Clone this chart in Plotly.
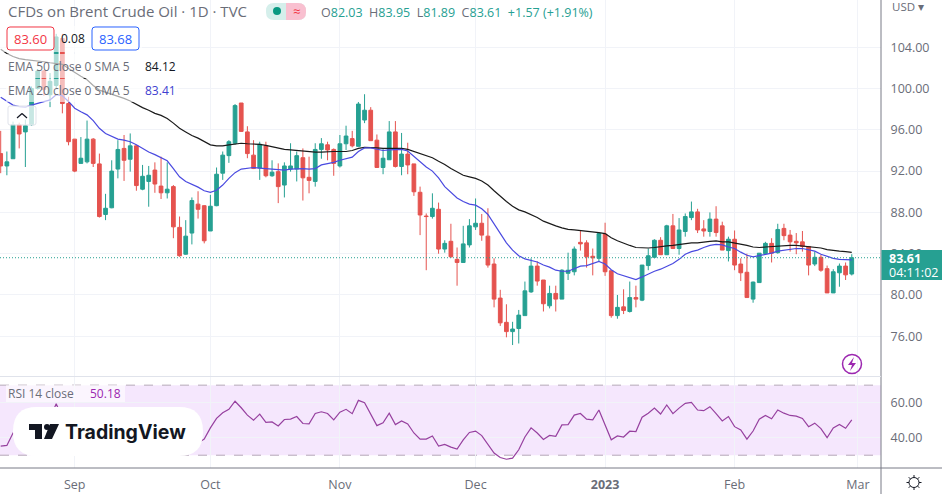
import math
import plotly.graph_objects as go

opens = [93.7,92.5,93.2,96.5,95.8,96.5,100,101.7,99.4,100.3,104.85,98.55,95.1,92.75,92.9,95.1,92.7,87.8,88.45,92.2,
94.2,93.15,94.45,90.25,91,92.1,90.55,89.9,90.5,86.55,83.95,86,88.8,88.65,86.2,88.65,91.8,93.5,94.7,98.6,
95.8,93.55,92.3,94.45,91.55,91.95,90.65,92.2,92.2,93.3,91.4,91,94.1,94.55,94.1,92.5,94.65,95.15,94.4,96.95,
97.9,95,92.35,93.1,95.8,92.45,93.65,92.7,89.95,87.65,87.6,88.3,84.45,85.2,83.45,83.15,84.85,86.6,86.95,85.7,
83,79.7,77.35,76.45,76.75,78,80.3,82.8,81.45,78.95,80.15,79.6,82.1,82.25,85.1,85.05,83.75,83.55,85.9,82.35,
78,78.85,78.4,79.75,79.5,82.85,83.65,85.3,83.9,86.7,84.5,86.15,87.5,88.05,86.4,86.15,87.35,86.7,84.3,85.4,
83,82.2,79.6,81.2,84,85,84.1,86.45,85.8,85.2,85.15,84.7,83,83.65,82.55,80.2,82.15,82.8,82.03]
highs = [95.9,93.9,96.8,96.7,97,100.2,101.9,101.8,101.5,105.3,105.3,99.2,95.1,95.3,96.9,95.2,93.7,89.8,93.05,95,
95.5,95.65,94.5,92.6,92.5,92.85,93.4,92.85,90.65,87.6,87.25,89.45,90.05,88.7,89.7,92.35,93.9,95,98.5,98.6,
96.35,95,94.85,94.85,93.05,92.75,92.85,94.7,93.9,94.2,93.4,94.7,95.2,94.85,94.2,95.5,96.4,95.9,98.7,99.45,
98.2,95.55,94.2,96.85,96.85,95.7,94.75,92.7,90.5,87.9,89.85,88.95,85.3,86.9,84.6,86.7,87.35,89.35,87.85,88.4,
83.55,80.5,79.1,77.4,78.55,81.3,83.55,83.25,81.45,80.9,80.9,82.5,84.1,84.7,86.25,85.3,84.5,86.05,87,82.35,
80,80.55,81.3,80.9,82.9,84.5,85.4,85.6,86.8,87.85,87.45,87.9,89.05,88.35,87.25,88,88.6,87.1,85.65,86.25,
83.55,84,81.3,84.05,85.15,85.5,86.9,86.9,86.3,86,86.2,84.7,84.2,83.9,82.85,82.5,83.05,83.15,83.95]
lows = [91.8,91.6,93.2,94.2,92.4,96.4,99.9,99.3,98.2,100,97.6,94.5,91.9,92.75,92.75,92.4,87.5,87.25,88.4,91.3,
91.05,91.95,90.1,90.15,88.55,89.9,89.3,89.35,85.5,83.7,83.9,84.9,87.4,85,86.2,88.6,91.15,92.8,94.55,95.8,
93.25,92.2,91.15,91.4,91.45,88.9,89.45,91.95,91,89.15,89.85,90.5,93.2,93.05,91.55,92.35,94.05,94.3,94.4,96.65,
94.95,92.35,91.7,93.1,92.35,91.6,91.7,89.6,85.8,82.4,87.4,84,84.1,83.6,80.9,83.15,84.6,86.3,85.25,82.65,
78.8,77,75.9,75.15,75.3,78,80.2,80.9,78.4,78.7,78.4,79.6,81.45,81.9,84.3,82.65,81.9,83.25,81.85,77.8,
77.7,78.15,78.3,78.8,79.4,82.4,83.55,83.9,83.9,84.45,83.9,85.65,87.25,86,85.65,85.65,85.65,84.35,83.25,82.4,
81.35,79.75,79.25,81.2,83.9,83.15,84,85.3,84.2,83.95,84.2,81.9,82.8,82.25,80.2,80.2,80.8,81.45,81.89]
closes = [92.5,92.9,96.5,95.6,96.4,100,101.7,99.9,100.7,105,98.55,94.85,92,93.25,95.1,92.75,87.6,88.4,92,94.1,
93.05,94.45,90.6,91.5,91.6,90.75,89.9,90.25,86.6,83.8,85.7,89.15,88.3,85.25,88.6,91.7,93.55,94.85,98.35,95.85,
93.7,92.25,94.6,91.55,91.9,90.5,92.5,92.5,93.5,91.35,91.1,94.1,94.65,94.05,92.75,94.65,95.4,94.45,98.5,97.9,
94.95,92.35,93.25,95.8,92.45,93.65,92.6,90,87.75,87.6,88.4,84.45,85,83.7,83.15,84.95,86.7,86.95,85.8,82.9,
79.6,77.3,76.45,76.7,78.05,80.4,82.8,81.35,79.15,80.15,79.6,82.4,82.4,84.45,84.95,83.7,83.6,85.95,82.25,78,
78.8,78.5,79.75,79.6,82.9,83.8,85.3,83.9,86.7,84.5,86.3,87.6,88.05,86.3,86.2,87.35,86.05,84.35,85.4,82.9,
82.15,79.75,81.25,84.05,85,84.05,86.35,85.75,85.15,85.05,84.7,82.9,83.65,82.4,80.2,82.25,82.8,81.95,83.61]

ema50 = [103.8,103.4,103.1,102.9,102.8,102.75,102.65,102.6,102.5,102.45,102.35,101.95,101.55,101.2,100.85,100.3,99.85,99.65,99.5,99.3,
99.05,98.8,98.45,98.15,97.9,97.6,97.4,97.1,96.65,96.15,95.8,95.45,95.2,94.85,94.55,94.45,94.45,94.55,94.65,94.7,
94.65,94.65,94.6,94.5,94.35,94.2,94.1,94.05,94,93.9,93.85,93.85,
93.85,93.9,93.9,93.9,93.9,94,94.2,94.3,94.3,94.25,94.2,94.2,94.2,94.2,94.1,93.9,93.65,93.45,93.3,92.95,92.65,92.25,91.9,91.6,91.45,91.3,91.05,90.65,90.1,89.55,89.05,88.6,88.25,88.05,87.8,87.5,87.15,86.9,86.7,86.5,86.35,86.3,86.25,86.15,86.1,86.05,85.95,
85.55,85.25,85,84.8,84.6,84.55,84.55,84.6,84.7,84.75,84.8,84.9,85,85.05,85.05,85.15,85.2,85.25,85.15,85.15,85.05,84.9,84.8,84.65,84.6,84.65,84.7,84.7,84.75,84.8,84.8,84.75,84.7,84.65,84.55,84.4,84.3,84.25,84.2,84.12]
ema20 = [99.15,98.75,98.4,98.25,98.2,98.4,98.55,98.7,98.9,99.4,99.3,98.75,98.1,97.75,97.45,96.9,96.15,95.65,95.4,95.1,
95,94.85,94.55,94.2,93.85,93.6,93.3,93,92.25,91.45,91,90.75,90.45,90.1,89.95,90.15,90.65,91.3,91.85,92.2,
92.25,92.35,92.3,92.25,92.2,92.15,92.1,92.2,92.25,92.25,92.2,92.25,
92.6,92.7,92.85,93.05,93.2,93.35,93.9,94.25,94.25,94.1,94,94.05,94.1,94.1,93.95,93.45,92.95,92.4,92,91.35,90.5,89.9,89.4,89.05,88.8,88.7,88.35,87.8,86.9,85.9,85.05,84.35,83.8,83.5,83.35,83.2,82.9,82.7,82.4,82.3,82.3,82.55,82.8,82.85,83.05,83.25,83,
82.45,82.05,81.85,81.65,81.5,81.75,82.05,82.3,82.5,82.75,83.05,83.45,83.95,84.2,84.35,84.6,84.8,84.9,84.85,84.65,84.5,84.15,83.85,83.7,83.8,83.95,84.05,84.25,84.35,84.45,84.5,84.5,84.4,84.25,83.95,83.75,83.55,83.45,83.4,83.41]
rsi = [35.2,35.6,42.7,40.8,41.7,50.4,54.2,50.4,51.3,59.4,51.3,45.6,41.7,42.7,46.5,42.7,35,37,42.7,45.6,
43.7,45.6,39.8,41.7,41.7,39.8,38,39,34,31,33,38,37,39.2,45.6,51,54.2,56.2,60.8,57.1,
52.9,50,53.5,48.8,49,46.7,50.4,50.6,52.1,48.1,47.9,53.8,54.8,53.8,50.2,54.6,56.2,53.7,61.3,60,
53.3,46.9,48.5,54,47.5,49.6,47.9,42.7,39.2,39.2,41,35.2,36.2,34.6,33.5,38.8,43,43.8,41.2,36,
31.2,28.7,27.7,28.3,33.1,40.4,45.6,42.7,39,41.3,40.8,47.3,47.5,52.9,53.8,50.6,50.2,55.8,47.5,38.8,
41,40.4,43.7,43.5,51.7,54,56.9,53.5,58.7,53.7,56.9,59.6,60.2,55.8,55.4,57.7,53.8,49.6,52.1,46.3,
44.4,39.2,43.8,50.6,52.7,50.8,55.8,54,52.7,52.3,51,46.3,48.3,45.2,40,45.6,47.5,45.4,50.18]

bars = list(range(1, len(closes) + 1))
assert all(len(a) == len(closes) for a in (opens, highs, lows, ema50, ema20, rsi)), [len(a) for a in (opens, highs, lows, closes, ema50, ema20, rsi)]

time_ticks = [13, 35, 56, 78, 99, 120, 140]
time_labels = ["Sep", "Oct", "Nov", "Dec", "<b>2023</b>", "Feb", "Mar"]
price_ticks = [76, 80, 84, 88, 92, 96, 100, 104]
rsi_ticks = [40, 60]
last_price = 83.61

W, H, PW, PH = 942, 494, 881, 468
FONT = "Open Sans, Noto Sans, sans-serif"
GREEN, RED, GRID, TXT = "#26a092", "#e5534f", "#f1f3f8", "#6a6d78"
XRANGE = [0.886, 143.74]

def px(x): return x / PW
def py(y): return 1 - y / PH

shapes, anns = [], []

def rect(x0, y0, x1, y1, fill="rgba(255,255,255,0.62)", line=None, lw=1):
    shapes.append(dict(type="rect", xref="paper", yref="paper", x0=px(x0), x1=px(x1), y0=py(y1), y1=py(y0),
                       fillcolor=fill, line=dict(color=line or "rgba(0,0,0,0)", width=lw if line else 0), layer="above"))

def rrect(x0, y0, x1, y1, r, fill, line=None):
    def P(x, y): return f"{px(x):.5f},{py(y):.5f}"
    d = (f"M{P(x0+r,y0)} L{P(x1-r,y0)} Q{P(x1,y0)} {P(x1,y0+r)} L{P(x1,y1-r)} Q{P(x1,y1)} {P(x1-r,y1)} "
         f"L{P(x0+r,y1)} Q{P(x0,y1)} {P(x0,y1-r)} L{P(x0,y0+r)} Q{P(x0,y0)} {P(x0+r,y0)} Z")
    shapes.append(dict(type="path", xref="paper", yref="paper", path=d, fillcolor=fill,
                       line=dict(color=line or "rgba(0,0,0,0)", width=1 if line else 0), layer="above"))

def poly(pts, fill):
    d = "M" + " L".join(f"{px(x):.5f},{py(y):.5f}" for x, y in pts) + " Z"
    shapes.append(dict(type="path", xref="paper", yref="paper", path=d, fillcolor=fill, line=dict(width=0), layer="above"))

def circle(cx, cy, r, fill="rgba(0,0,0,0)", line=None, lw=1):
    shapes.append(dict(type="circle", xref="paper", yref="paper", x0=px(cx-r), x1=px(cx+r), y0=py(cy+r), y1=py(cy-r),
                       fillcolor=fill, line=dict(color=line or "rgba(0,0,0,0)", width=lw if line else 0), layer="above"))

def seg(x0, y0, x1, y1, color, lw=1):
    shapes.append(dict(type="line", xref="paper", yref="paper", x0=px(x0), x1=px(x1), y0=py(y0), y1=py(y1),
                       line=dict(color=color, width=lw), layer="above"))

def text(x, y, s, size=12, color=TXT, anchor="left", family=FONT):
    anns.append(dict(xref="paper", yref="paper", x=px(x), y=py(y), text=s, showarrow=False, xanchor=anchor, yanchor="middle",
                     font=dict(family=family, size=size, color=color), borderpad=0, borderwidth=0))

# RSI band and guides
shapes.append(dict(type="rect", xref="x2", yref="y2", x0=XRANGE[0], x1=XRANGE[1], y0=30, y1=70, fillcolor="rgba(170,60,240,0.12)", line=dict(width=0), layer="below"))
for lvl in (30, 70):
    shapes.append(dict(type="line", xref="x2", yref="y2", x0=XRANGE[0], x1=XRANGE[1], y0=lvl, y1=lvl, line=dict(color="#b5a8b8", width=1, dash="dash"), layer="below"))

# translucent legend backings
rect(0, 26, 142, 52)
rect(6, 54, 178, 78)
rect(6, 79, 178, 102)
rect(6, 385, 125, 402, fill="rgba(255,255,255,0.6)")

# legend boxes
rrect(7, 27, 54, 50, 3, "#ffffff", line="#f23645")
rrect(92, 27, 139, 50, 3, "#ffffff", line="#2962ff")
rrect(8, 106, 36, 125, 2, "rgba(255,255,255,0.75)", line="#e0e3eb")
seg(17, 118, 22, 113.5, "#131722", 1.2)
seg(22, 113.5, 27, 118, "#131722", 1.2)

# status pill
rrect(266, 3, 306, 20, 8, "#d5efeb")
rrect(286, 3, 306, 20, 8, "#f9c0d0")
rect(286, 3, 294, 20, fill="#f9c0d0")
circle(277, 11, 4, fill="#089981")

# logo
rrect(13, 407, 203, 456, 24, "#ffffff")
poly([(29, 424), (42, 424), (42, 439), (35, 439), (35, 430), (29, 430)], "#131722")
circle(47, 427, 3, fill="#131722")
poly([(50, 424), (59, 424), (52, 439), (44, 439)], "#131722")
text(65, 432, "<b>TradingView</b>", 19.5, "#131722", family="Inter, Open Sans, sans-serif")

# flash icon
circle(852, 364, 9.5, line="#9c27b0", lw=1.5)
poly([(854, 357), (848, 365), (852, 365), (850, 371), (856, 363), (852, 363)], "#9c27b0")

# axis frame
seg(881, 0, 881, 494, "#787b86", 1)
seg(0, 468, 942, 468, "#787b86", 1)
seg(0, 376.5, 881, 376.5, "#e0e3eb", 1)

# gear icon
circle(914, 482.5, 5, line="#131722", lw=1)
for k in range(8):
    a = k * math.pi / 4
    seg(914 + 5 * math.cos(a), 482.5 + 5 * math.sin(a), 914 + 7.5 * math.cos(a), 482.5 + 7.5 * math.sin(a), "#131722", 1)

# price label
rect(881.5, 250, 942, 280, fill="#26a092")
text(889, 258.5, "<b>83.61</b>", 12.5, "#ffffff")
text(889, 272.5, "04:11:02", 12.5, "#ffffff")

# legend text
text(8, 11, "CFDs on Brent Crude Oil · 1D · TVC", 15, "#6a6d78")
text(296, 11, "≈", 13, "#f23645", anchor="center")
def v(s): return f"<span style='color:#26a092'>{s}</span>"
text(321, 12.5, "O" + v("82.03") + "  H" + v("83.95") + "  L" + v("81.89") + "  C" + v("83.61") + "  " + v("+1.57 (+1.91%)"), 12.5, "#6a6d78")
text(30.5, 38.5, "83.60", 13, "#f23645", anchor="center")
text(115.5, 38.5, "83.68", 13, "#2962ff", anchor="center")
text(73, 38.5, "0.08", 12, "#131722", anchor="center")
text(8, 67, "EMA 50 close 0 SMA 5", 12, "#6a6d78")
text(145, 67, "84.12", 12, "#131722")
text(8, 91, "EMA 20 close 0 SMA 5", 12, "#6a6d78")
text(145, 91, "83.41", 12, "#3f3fd0")
text(8, 393, "RSI 14 close", 12, "#6a6d78")
text(90, 393, "50.18", 12, "#9c27b0")
text(892, 7, "USD ▾", 11.5, "#6a6d78")

fig = go.Figure()
fig.add_trace(go.Candlestick(x=bars, open=opens, high=highs, low=lows, close=closes, xaxis="x", yaxis="y",
    increasing=dict(line=dict(color=GREEN, width=1), fillcolor=GREEN),
    decreasing=dict(line=dict(color=RED, width=1), fillcolor=RED),
    whiskerwidth=0, hoverinfo="skip", showlegend=False))
fig.add_trace(go.Scatter(x=bars, y=ema50, mode="lines", line=dict(color="#1a1a1a", width=1.2), xaxis="x", yaxis="y", hoverinfo="skip", showlegend=False))
fig.add_trace(go.Scatter(x=bars, y=ema20, mode="lines", line=dict(color="#4a4ae0", width=1.2), xaxis="x", yaxis="y", hoverinfo="skip", showlegend=False))
fig.add_trace(go.Scatter(x=XRANGE, y=[last_price, last_price], mode="lines", line=dict(color=GREEN, width=1, dash="1px,2px"), xaxis="x", yaxis="y", hoverinfo="skip", showlegend=False))
fig.add_trace(go.Scatter(x=bars, y=rsi, mode="lines", line=dict(color="#96409f", width=1.2), xaxis="x2", yaxis="y2", hoverinfo="skip", showlegend=False))

axfont = dict(family=FONT, size=12.5, color=TXT)
fig.update_layout(
    width=W, height=H, margin=dict(l=0, r=W - PW, t=0, b=H - PH, pad=0),
    paper_bgcolor="#ffffff", plot_bgcolor="#ffffff", showlegend=False, boxgap=0.14,
    xaxis=dict(domain=[0, 1], anchor="y", range=XRANGE, tickvals=time_ticks, showticklabels=False, ticks="", showgrid=True, gridcolor=GRID, gridwidth=1, zeroline=False, showline=False, rangeslider=dict(visible=False)),
    xaxis2=dict(domain=[0, 1], anchor="y2", range=XRANGE, tickvals=time_ticks, ticktext=time_labels, tickfont=axfont, ticks="outside", ticklen=5, tickcolor="rgba(0,0,0,0)", showgrid=True, gridcolor=GRID, gridwidth=1, zeroline=False, showline=False),
    yaxis=dict(domain=[1 - 376.0 / PH, 1], anchor="x", side="right", range=[72.15, 108.58], tickvals=price_ticks, ticktext=[f"{t:.2f}" for t in price_ticks], tickfont=axfont, ticks="outside", ticklen=6, tickcolor="rgba(0,0,0,0)", showgrid=True, gridcolor=GRID, gridwidth=1, zeroline=False, showline=False),
    yaxis2=dict(domain=[0, 1 - 377.0 / PH], anchor="x2", side="right", range=[22.7, 74.65], tickvals=rsi_ticks, ticktext=[f"{t:.2f}" for t in rsi_ticks], tickfont=axfont, ticks="outside", ticklen=6, tickcolor="rgba(0,0,0,0)", showgrid=True, gridcolor=GRID, gridwidth=1, zeroline=False, showline=False),
    shapes=shapes, annotations=anns, font=dict(family=FONT),
)
fig.write_html("out.html", config=dict(displayModeBar=False), post_script="document.body.style.margin='0';document.body.style.overflow='hidden';")
